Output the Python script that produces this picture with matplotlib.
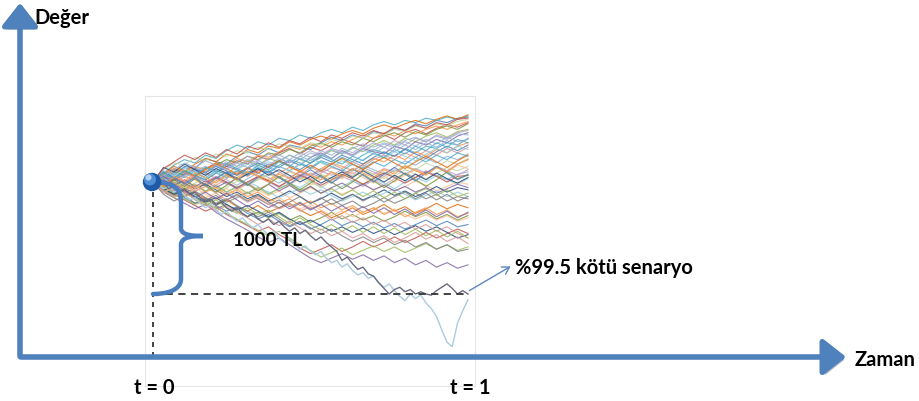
import numpy as np
import matplotlib.pyplot as plt
from matplotlib.patches import FancyArrowPatch, Circle, PathPatch
from matplotlib.path import Path
import matplotlib.patheffects as pe

plt.rcParams['font.family'] = ['Lato', 'DejaVu Sans']

# simulated portfolio value change (TL) over one year, 31 steps
paths = [
    [0,90,60,140,120,210,180,160,230,270,240,300,260,330,310,290,350,400,370,420,390,450,430,480,460,520,500,550,530,570,580],
    [0,40,110,80,50,120,170,140,190,160,230,200,260,300,250,310,280,330,380,350,320,390,420,380,440,470,430,480,510,490,530],
    [0,-40,30,90,60,130,100,70,140,190,150,210,180,240,200,170,230,280,250,310,270,330,370,330,390,360,410,440,400,450,470],
    [0,70,30,-10,50,20,80,140,110,60,100,160,130,190,150,220,260,210,280,240,300,270,250,320,290,360,330,380,350,410,440],
    [0,20,80,130,90,40,100,70,20,80,130,90,150,200,170,130,190,160,220,180,240,290,260,230,300,260,320,300,350,330,390],
    [0,-60,-10,50,20,-40,10,70,40,100,60,20,80,130,100,60,120,170,140,100,160,210,180,240,200,270,230,290,260,320,350],
    [0,30,-30,10,-50,-10,50,20,-30,30,80,40,-10,40,90,50,120,90,40,100,150,110,70,130,190,150,210,170,230,200,250],
    [0,50,100,60,110,80,30,-20,30,-10,50,10,-40,20,70,30,80,130,100,50,110,70,120,90,140,110,70,130,100,160,200],
    [0,-30,20,-20,-80,-40,-90,-50,10,-30,20,70,40,-10,40,0,-50,10,60,30,-20,40,90,50,110,70,30,80,130,100,140],
    [0,60,20,80,40,0,50,-10,-60,-20,40,0,-50,-20,30,80,40,-10,50,10,-40,20,-30,30,80,40,100,60,20,70,90],
    [0,-50,-100,-60,-120,-80,-30,-90,-50,0,-40,-100,-60,-10,-50,10,-40,-90,-40,10,-30,30,-10,-60,0,40,0,60,20,-20,30],
    [0,20,-40,-90,-50,-110,-160,-110,-60,-110,-70,-120,-80,-140,-100,-50,-100,-60,-110,-70,-20,-70,-30,-80,-40,10,-30,-80,-40,0,-20],
    [0,-80,-40,-100,-60,-20,-70,-130,-90,-150,-110,-170,-130,-80,-130,-190,-150,-100,-150,-110,-160,-120,-70,-120,-80,-130,-90,-40,-90,-50,-70],
    [0,-40,-90,-50,-110,-160,-120,-180,-140,-90,-150,-200,-160,-220,-180,-240,-200,-150,-210,-170,-230,-190,-140,-190,-150,-100,-150,-110,-170,-130,-150],
    [0,-20,-80,-130,-90,-150,-200,-160,-220,-260,-210,-270,-230,-190,-250,-300,-260,-320,-280,-230,-290,-250,-200,-260,-220,-280,-240,-190,-240,-200,-230],
    [0,-70,-120,-80,-140,-190,-240,-200,-260,-310,-270,-320,-280,-340,-300,-360,-320,-270,-330,-290,-340,-300,-350,-310,-260,-310,-270,-330,-290,-340,-300],
    [0,-30,-90,-140,-190,-150,-210,-260,-220,-280,-330,-290,-350,-400,-360,-420,-380,-330,-390,-350,-400,-360,-410,-370,-420,-380,-340,-390,-350,-400,-380],
    [0,-60,-110,-160,-210,-260,-220,-290,-340,-390,-440,-400,-470,-520,-590,-640,-600,-560,-620,-580,-530,-580,-540,-490,-540,-500,-450,-500,-460,-420,-460],
    [0,-40,-100,-150,-200,-170,-230,-280,-330,-380,-430,-480,-440,-500,-560,-610,-670,-630,-590,-650,-610,-570,-620,-580,-630,-590,-550,-600,-560,-610,-580],
    [0,-90,-140,-190,-240,-200,-270,-330,-380,-430,-490,-540,-500,-560,-620,-680,-720,-680,-640,-690,-650,-700,-660,-720,-680,-740,-700,-760,-720,-770,-740],
    [0,80,150,200,170,240,210,280,330,300,360,330,390,370,420,390,440,470,440,490,460,510,540,510,550,530,570,550,580,560,590],
    [0,50,20,90,140,110,170,150,210,180,240,220,270,320,290,340,310,360,330,380,420,390,440,410,460,430,470,500,470,510,540],
    [0,10,70,40,100,60,120,180,140,200,170,130,190,240,200,260,230,290,250,300,340,310,350,320,370,400,360,410,380,430,420],
    [0,-20,40,0,60,20,-30,30,90,50,110,80,40,100,60,130,90,160,120,180,140,200,240,200,260,220,280,240,300,260,310],
    [0,40,0,-50,-10,40,0,60,20,-30,20,70,30,90,50,10,70,30,90,50,110,70,30,90,150,110,170,130,190,160,210],
    [0,-10,40,90,50,0,40,90,60,120,80,130,90,40,90,50,100,60,110,70,130,90,50,110,70,120,80,140,100,60,110],
    [0,30,-20,-70,-30,-80,-40,-90,-140,-100,-50,-90,-140,-100,-60,-110,-70,-120,-170,-130,-90,-140,-100,-60,-110,-160,-120,-80,-130,-90,-130],
    [0,-30,-70,-30,-90,-140,-100,-60,-110,-160,-130,-180,-140,-200,-240,-200,-250,-300,-260,-310,-270,-230,-280,-240,-290,-330,-290,-340,-300,-350,-320],
    [0,-60,-110,-70,-130,-180,-140,-200,-250,-210,-260,-310,-270,-330,-380,-340,-390,-440,-400,-450,-410,-460,-420,-470,-430,-390,-440,-400,-450,-500,-470],
    [0,-20,-70,-120,-80,-140,-190,-150,-210,-260,-310,-270,-330,-390,-350,-410,-460,-420,-480,-530,-490,-540,-500,-560,-520,-580,-540,-600,-560,-620,-600],
    [0,60,120,90,160,210,180,250,220,290,260,320,300,360,330,380,410,380,430,460,430,480,510,480,520,550,520,560,590,560,600],
    [0,30,90,60,120,90,150,200,170,230,200,260,240,290,260,320,350,310,360,330,390,360,410,440,400,450,420,470,500,470,520],
    [0,50,10,70,120,80,140,100,60,120,170,130,190,150,110,170,220,180,240,200,160,220,270,230,290,250,210,270,320,280,330],
    [0,-30,30,-10,-60,-10,40,0,-50,0,50,10,-40,10,60,20,-30,20,70,30,-20,30,80,40,-10,40,90,50,0,50,60],
    [0,-50,0,-60,-20,-80,-30,-90,-40,-100,-50,-110,-60,-20,-80,-40,-100,-60,-120,-70,-130,-80,-140,-90,-150,-100,-60,-120,-70,-130,-100],
    [0,20,-30,20,-40,10,-50,0,-60,-10,-70,-20,-80,-30,-90,-40,-100,-50,-10,-60,-20,-70,-30,-80,-40,-90,-50,-100,-60,-20,-50],
    [0,70,40,100,60,20,80,40,100,60,120,80,140,100,160,120,180,140,100,160,120,180,140,200,160,220,180,240,200,260,230],
    [0,-40,-10,-70,-30,-90,-50,-110,-70,-130,-90,-150,-190,-150,-210,-170,-230,-190,-250,-210,-270,-230,-290,-250,-310,-270,-230,-290,-250,-310,-280],
    [0,40,80,40,100,140,100,160,120,180,140,200,240,200,260,220,280,240,300,260,320,280,340,300,360,320,380,340,400,360,380],
    [0,-20,-60,-20,-80,-40,-100,-160,-120,-180,-140,-200,-240,-200,-260,-220,-280,-340,-300,-360,-320,-380,-340,-400,-360,-420,-380,-440,-400,-460,-500],
    [0,110,170,150,220,190,250,230,280,260,310,290,340,320,300,350,330,380,360,410,390,440,420,470,450,500,480,520,500,540,560],
    [0,-90,-30,60,130,90,150,120,180,230,190,250,210,170,230,280,240,300,270,240,300,350,310,370,330,390,360,420,390,440,460],
    [0,100,50,120,80,30,90,50,110,160,120,180,140,100,160,210,170,130,190,150,200,250,210,270,230,190,250,300,260,320,290],
    [0,-100,-40,-110,-60,0,-60,-120,-70,-10,-70,-20,40,-20,30,-30,20,80,30,90,40,-10,50,0,60,110,70,130,90,150,120],
    [0,130,90,160,110,60,120,80,20,70,120,60,110,60,0,50,-10,40,90,40,100,50,0,60,10,70,20,80,30,-10,40],
    [0,-110,-170,-120,-190,-150,-210,-160,-110,-170,-120,-180,-230,-180,-130,-190,-140,-200,-160,-110,-170,-120,-180,-130,-90,-150,-100,-160,-110,-170,-130],
    [0,70,140,100,50,110,160,120,70,130,80,140,190,140,90,150,100,160,210,160,110,170,220,170,120,180,230,180,130,190,240],
    [0,-60,20,-40,30,-30,-90,-30,40,-20,-80,-20,50,-10,-70,-10,60,0,-60,0,70,10,-50,10,80,20,-40,20,90,30,60],
    [0,90,40,-20,40,-30,30,90,30,-30,40,100,40,-20,50,110,50,-10,60,120,60,0,70,130,70,10,80,140,80,20,70],
    [0,120,180,240,200,260,220,290,250,320,290,350,310,370,340,400,360,420,390,440,410,460,430,490,460,510,480,530,510,560,570],
    [0,-70,-140,-90,-160,-210,-160,-230,-280,-230,-290,-250,-310,-370,-320,-380,-430,-380,-440,-390,-450,-400,-460,-410,-470,-420,-480,-430,-490,-440,-500],
    [0,50,-20,-80,-140,-90,-150,-100,-160,-220,-170,-230,-180,-240,-190,-250,-200,-260,-210,-270,-220,-280,-230,-290,-240,-300,-250,-310,-260,-320,-270],
    [0,80,30,100,60,130,90,160,120,80,150,110,180,140,210,170,240,200,160,230,190,260,220,290,250,320,280,350,310,380,350],
    [0,-40,50,10,80,40,-10,60,20,90,50,0,70,30,100,60,20,90,50,120,80,40,110,70,140,100,60,130,90,160,200],
    [0,60,110,170,130,190,150,110,170,130,190,150,210,170,230,190,250,210,270,230,290,250,310,270,330,290,350,310,370,330,390],
    [0,-80,-130,-90,-150,-200,-260,-210,-270,-320,-380,-330,-390,-350,-410,-460,-420,-480,-440,-500,-460,-520,-480,-540,-500,-450,-510,-470,-530,-490,-550],
]

# the two worst scenarios, 61 steps
worst_dark = [0,-30,-10,-60,-40,-90,-60,-110,-90,-140,-170,
              -150,-200,-180,-230,-260,-230,-280,-310,-280,-330,
              -360,-330,-380,-350,-400,-440,-410,-460,-430,-480,
              -520,-490,-540,-580,-620,-700,-670,-730,-780,-760,
              -820,-840,-900,-950,-1000,-960,-940,-980,-960,-1000,
              -980,-1000,-1010,-970,-940,-910,-950,-1000,-970,-1000]
worst_light = [0,-20,-60,-40,-90,-70,-120,-160,-140,-190,-230,
               -200,-250,-290,-260,-310,-350,-320,-370,-410,-380,
               -430,-470,-440,-500,-540,-510,-560,-600,-570,-620,
               -650,-620,-680,-720,-700,-760,-730,-790,-830,-810,
               -860,-840,-900,-940,-910,-970,-1020,-1060,-1000,-1040,
               -1010,-1080,-1130,-1200,-1320,-1430,-1470,-1260,-1150,-1050]

var_level = -1000  # %99.5 VaR

colors = ['#4F81BD', '#C0504D', '#9BBB59', '#8064A2', '#4BACC6', '#F79646',
          '#95B3D7', '#D99694', '#C3D69B', '#B3A2C7', '#93CDDD', '#FAC090',
          '#1F497D', '#7F7F7F', '#E46C0A', '#77933C']
blue = '#4F81BD'

W, H = 919, 402
fig = plt.figure(figsize=(W / 100, H / 100), dpi=100)

# simulation panel
px_per_tl = 112 / 1000.0
x0, x1, ytop, ybot, y_start = 145, 475, 97, 387, 183
ax = fig.add_axes([x0 / W, 1 - ybot / H, (x1 - x0) / W, (ybot - ytop) / H])
ax.set_xlim(-8 / 315, 1 + 7 / 315)
ax.set_ylim((y_start - ybot) / px_per_tl, (y_start - ytop) / px_per_tl)
ax.set_xticks([])
ax.set_yticks([])
for s in ax.spines.values():
    s.set_color('#e6e6e6')
    s.set_linewidth(0.8)

for i, p in enumerate(paths):
    ax.plot(np.linspace(0, 1, len(p)), p, color=colors[i % len(colors)], lw=0.8, alpha=0.85)
ax.plot(np.linspace(0, 1, len(worst_light)), worst_light, color='#A9CCE0', lw=1.0)
ax.plot(np.linspace(0, 1, len(worst_dark)), worst_dark, color='#6A6A80', lw=1.0)

# VaR reference lines
ax.plot([0, 1], [var_level, var_level], color='#333333', lw=1.3, ls=(0, (4, 3)))
ax.plot([0, 0], [0, (y_start - 358) / px_per_tl], color='#222222', lw=1.2,
        ls=(0, (3, 3)), clip_on=False, zorder=5)

# overlay in pixel coordinates for the arrows and labels
base = fig.add_axes([0, 0, 1, 1])
base.set_xlim(0, W)
base.set_ylim(H, 0)
base.axis('off')
base.patch.set_visible(False)

# axes arrows
for start, end in [((20, 360), (20, 1)), ((18, 358), (849, 358))]:
    arr = FancyArrowPatch(start, end, arrowstyle='-|>,head_length=1.4,head_width=1.1',
                          mutation_scale=10, lw=4, color=blue, zorder=3)
    arr.set_path_effects([pe.SimplePatchShadow(offset=(2, -2), alpha=0.3), pe.Normal()])
    base.add_patch(arr)

# curly brace for the 1000 TL loss
verts = [(160, 183), (178, 186), (181, 192), (181, 205),
         (181, 218), (181, 226), (181, 230),
         (182, 236), (192, 237), (203, 237),
         (192, 237), (182, 238), (181, 245),
         (181, 258), (181, 270), (181, 280),
         (181, 292), (165, 295), (153, 295)]
codes = [Path.MOVETO] + [Path.CURVE4] * 18
brace = PathPatch(Path(verts, codes), fill=False, ec='#4A7EBF', lw=3.2,
                  capstyle='round', zorder=6)
base.add_patch(brace)

# starting point
base.add_patch(Circle((152, 183), 8.5, color='#1F5AA6', zorder=7))
base.add_patch(Circle((150, 180.5), 5.3, color='#4F8FD8', zorder=7))
base.add_patch(Circle((148.5, 178.5), 2.3, color='#B9D4F2', zorder=7))

# scenario callout
base.add_patch(FancyArrowPatch((467, 293), (513, 266), arrowstyle='->,head_length=0.5,head_width=0.3',
                               mutation_scale=10, lw=1, color='#5B86C5', zorder=6))

fs = 14.5
base.text(34, 18, 'Değer', fontsize=fs, fontweight='bold', va='center', ha='left')
base.text(855, 360, 'Zaman', fontsize=fs, fontweight='bold', va='center', ha='left')
base.text(154, 388, 't = 0', fontsize=fs, fontweight='bold', va='center', ha='center')
base.text(470, 388, 't = 1', fontsize=fs, fontweight='bold', va='center', ha='center')
base.text(233, 241, '1000 TL', fontsize=13.5, fontweight='bold', va='center', ha='left', zorder=8)
base.text(515, 268, '%99.5 kötü senaryo', fontsize=fs, fontweight='bold', va='center', ha='left')

fig.savefig('out.png', dpi=100)
